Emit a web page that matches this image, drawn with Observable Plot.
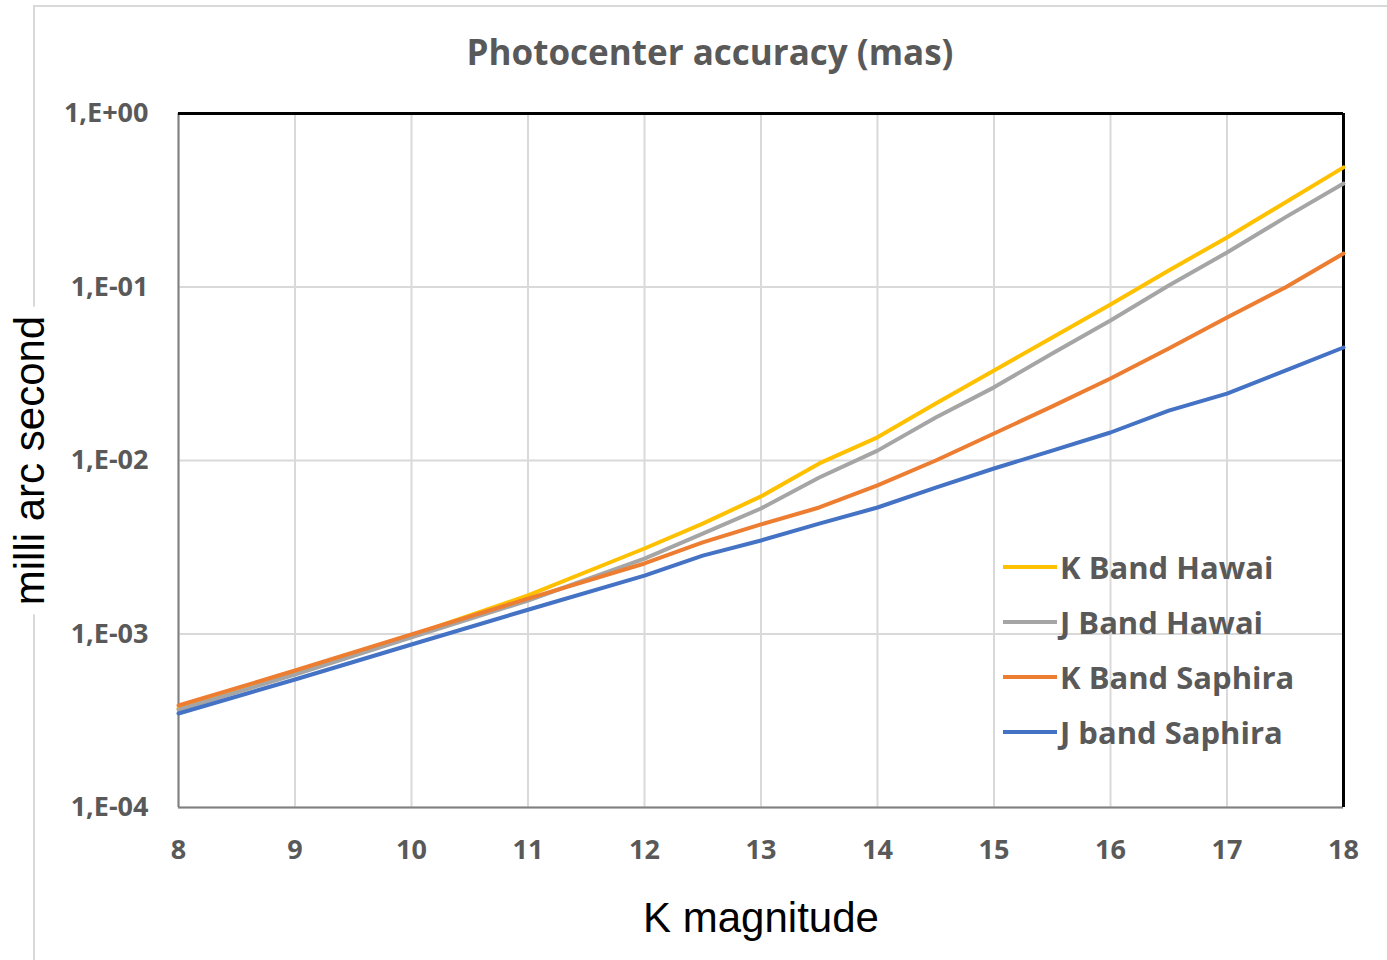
<!DOCTYPE html>
<html>
<head>
<meta charset="utf-8">
<script src="https://cdn.jsdelivr.net/npm/d3@7"></script>
<script src="https://cdn.jsdelivr.net/npm/@observablehq/plot@0.6"></script>
<style>
  body { margin: 0; background: white; }
  #wrap { position: relative; width: 1387px; height: 960px; overflow: hidden; }
  #border { position: absolute; left: 33px; top: 5px; width: 1400px; height: 1000px;
            border-top: 2px solid #d9d9d9; border-left: 2px solid #d9d9d9; z-index: 0; }
  #title { position: relative; z-index: 1; box-sizing: border-box; height: 90px; padding-top: 33px;
           padding-left: 33px; text-align: center; font: bold 35px "Open Sans", sans-serif; line-height: 38px; color: #595959; }
  #chart { position: relative; z-index: 1; }
  #legend { position: absolute; z-index: 2; left: 1003px; top: 539px; font: bold 31px "Open Sans", sans-serif; color: #595959; }
  .row { display: flex; align-items: center; height: 55px; }
  .sw { width: 54px; height: 4px; margin-right: 3px; }
</style>
</head>
<body>
<div id="wrap">
  <div id="border"></div>
  <div id="title">Photocenter accuracy (mas)</div>
  <div id="chart"></div>
  <div id="legend"></div>
</div>
<script>
const seriesNames = ["K Band Hawai", "J Band Hawai", "K Band Saphira", "J band Saphira"];
const seriesColors = ["#FFC000", "#A5A5A5", "#ED7D31", "#4472C4"];
const kMag = [8, 9, 10, 11, 12, 12.5, 13, 13.5, 14, 14.5, 15, 15.5, 16, 16.5, 17, 17.5, 18];
const kBandHawai = [3.72e-4, 5.92e-4, 9.80e-4, 1.67e-3, 3.11e-3, 4.33e-3, 6.21e-3, 9.62e-3, 1.36e-2, 2.13e-2, 3.30e-2, 5.12e-2, 7.93e-2, 0.1245, 0.193, 0.307, 0.489];
const jBandHawai = [3.66e-4, 5.84e-4, 9.55e-4, 1.56e-3, 2.72e-3, 3.79e-3, 5.29e-3, 7.98e-3, 1.14e-2, 1.77e-2, 2.64e-2, 4.14e-2, 6.41e-2, 0.102, 0.158, 0.252, 0.395];
const kBandSaphira = [3.87e-4, 6.16e-4, 9.94e-4, 1.60e-3, 2.55e-3, 3.37e-3, 4.28e-3, 5.36e-3, 7.18e-3, 1.00e-2, 1.43e-2, 2.05e-2, 2.97e-2, 4.42e-2, 6.68e-2, 9.93e-2, 0.156];
const jBandSaphira = [3.48e-4, 5.47e-4, 8.70e-4, 1.38e-3, 2.17e-3, 2.83e-3, 3.46e-3, 4.33e-3, 5.36e-3, 6.98e-3, 8.99e-3, 1.14e-2, 1.45e-2, 1.94e-2, 2.43e-2, 3.30e-2, 4.48e-2];
const xTicks = [8, 9, 10, 11, 12, 13, 14, 15, 16, 17, 18];
const yTicks = [1e-4, 1e-3, 1e-2, 1e-1, 1];
const yTickLabels = ["1,E-04", "1,E-03", "1,E-02", "1,E-01", "1,E+00"];

const allSeries = [kBandHawai, jBandHawai, kBandSaphira, jBandSaphira];
const data = allSeries.flatMap((vals, i) => vals.map((v, j) => ({series: seriesNames[i], k: kMag[j], v})));

const chart = Plot.plot({
  width: 1387,
  height: 870,
  marginTop: 23,
  marginBottom: 153,
  marginLeft: 178,
  marginRight: 44,
  style: {background: "transparent", fontFamily: "'Open Sans', sans-serif"},
  x: {domain: [8, 18]},
  y: {type: "log", domain: [1e-4, 1]},
  color: {domain: seriesNames, range: seriesColors},
  marks: [
    Plot.gridX(xTicks, {stroke: "#d9d9d9", strokeOpacity: 1, strokeWidth: 2}),
    Plot.gridY(yTicks, {stroke: "#d9d9d9", strokeOpacity: 1, strokeWidth: 2}),
    Plot.ruleX([8], {stroke: "#808080", strokeWidth: 2}),
    Plot.ruleY([1e-4], {stroke: "#808080", strokeWidth: 2}),
    Plot.ruleY([1], {stroke: "black", strokeWidth: 3}),
    Plot.ruleX([18], {stroke: "black", strokeWidth: 3}),
    Plot.line(data, {x: "k", y: "v", z: "series", stroke: "series", strokeWidth: 4}),
    Plot.axisX(xTicks, {tickSize: 0, tickPadding: 32, fontSize: 27, fontWeight: "bold", fill: "#595959", label: null,
      tickFormat: (d) => String(d)}),
    Plot.axisY(yTicks, {tickSize: 0, tickPadding: 30, fontSize: 27, fontWeight: "bold", fill: "#595959", label: null,
      tickFormat: (d) => yTickLabels[yTicks.indexOf(d)]}),
    Plot.text(["K magnitude"], {frameAnchor: "bottom", dy: 111, fontSize: 42, fill: "black",
      fontFamily: "Liberation Sans, Arial, sans-serif", lineAnchor: "middle"}),
    Plot.text(["milli arc second"], {frameAnchor: "left", dx: -148, rotate: -90, fontSize: 42, fill: "black",
      textAnchor: "middle", lineAnchor: "middle",
      fontFamily: "Liberation Sans, Arial, sans-serif", stroke: "white", strokeWidth: 24, paintOrder: "stroke"})
  ]
});
document.getElementById("chart").appendChild(chart);

const legend = document.getElementById("legend");
seriesNames.forEach((name, i) => {
  const row = document.createElement("div");
  row.className = "row";
  const sw = document.createElement("div");
  sw.className = "sw";
  sw.style.background = seriesColors[i];
  const t = document.createElement("span");
  t.textContent = name;
  row.appendChild(sw);
  row.appendChild(t);
  legend.appendChild(row);
});
</script>
</body>
</html>
